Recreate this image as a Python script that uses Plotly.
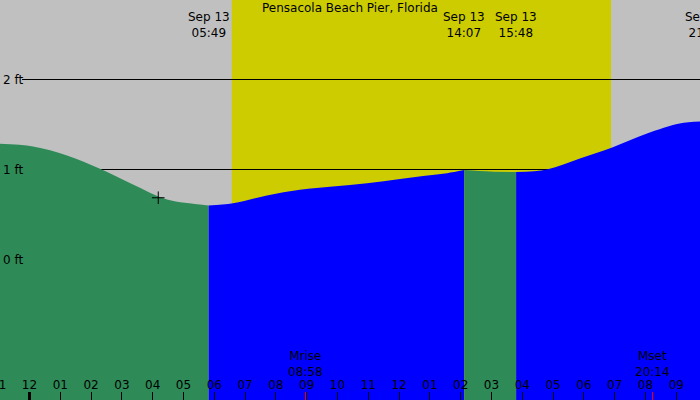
import plotly.graph_objects as go

# tide curve, hours since midnight Sep 13 -> height in ft, split at high/low tides
fall1_hours = [-0.958, 0.114, 1.218, 2.289, 3.36, 4.464, 5.536, 5.817]
fall1_ft = [1.286, 1.256, 1.156, 1.008, 0.833, 0.667, 0.611, 0.600]
rise1_hours = [5.817, 6.607, 7.71, 8.78, 9.85, 10.96, 12.03, 13.0, 13.56, 14.117]
rise1_ft = [0.600, 0.626, 0.711, 0.774, 0.811, 0.848, 0.895, 0.935, 0.959, 0.994]
fall2_hours = [14.117, 14.95, 15.8]
fall2_ft = [0.994, 0.978, 0.972]
rise2_hours = [15.8, 16.8, 17.87, 18.94, 20.05, 21.11, 21.77]
rise2_ft = [0.972, 1.000, 1.122, 1.248, 1.400, 1.511, 1.533]

# tide events shown at the top
event_hours = [5.817, 14.117, 15.8, 21.967]
event_dates = ["Sep 13", "Sep 13", "Sep 13", "Sep 13"]
event_times = ["05:49", "14:07", "15:48", "21:58"]

sunrise = 6.567   # 06:34
sunset = 18.883   # 18:53

moon_hours = [8.967, 20.233]
moon_names = ["Mrise", "Mset"]
moon_times = ["08:58", "20:14"]

now_hour = [4.18]
now_ft = [0.686]

tick_hours = list(range(-1, 22))
tick_text = ["11", "12", "01", "02", "03", "04", "05", "06", "07", "08", "09", "10", "11",
             "12", "01", "02", "03", "04", "05", "06", "07", "08", "09"]

x_range = [-0.958, 21.77]
y_range = [-1.5614, 2.8836]

GREEN = "#2e8b57"
BLUE = "#0000ff"
FONT = dict(family="DejaVu Sans", size=12, color="black")


def paper_x(h):
    # hour -> paper fraction, for labels whose anchor falls just outside the axis range
    return (h - x_range[0]) / (x_range[1] - x_range[0])


fig = go.Figure()

segments = [
    (fall1_hours, fall1_ft, GREEN),
    (rise1_hours, rise1_ft, BLUE),
    (fall2_hours, fall2_ft, GREEN),
    (rise2_hours, rise2_ft, BLUE),
]
for hrs, ft, col in segments:
    fig.add_trace(go.Scatter(x=[hrs[0], hrs[-1]], y=[y_range[0] - 1] * 2, mode="lines",
                             line=dict(width=0), hoverinfo="skip"))
    fig.add_trace(go.Scatter(x=hrs, y=ft, mode="lines", line=dict(width=0, shape="spline"),
                             fill="tonexty", fillcolor=col, hoverinfo="skip"))

fig.add_trace(go.Scatter(x=now_hour, y=now_ft, mode="markers",
                         marker=dict(symbol="cross-thin", size=9, line=dict(color="black", width=1))))

# daylight
fig.add_shape(type="rect", xref="x", yref="paper", x0=sunrise, x1=sunset, y0=0, y1=1,
              fillcolor="#cccc00", line_width=0, layer="below")
# level lines
for lvl in [1, 2]:
    fig.add_shape(type="line", xref="paper", yref="y", x0=22 / 700, x1=1, y0=lvl, y1=lvl,
                  line=dict(color="black", width=1), layer="below")

# midnight and moon ticks
fig.add_shape(type="line", xref="x", yref="paper", x0=0, x1=0, y0=0, y1=0.02,
              line=dict(color="black", width=3))
for mh in moon_hours:
    fig.add_shape(type="line", xref="x", yref="paper", x0=mh, x1=mh, y0=0, y1=0.02,
                  line=dict(color="red", width=1))

fig.add_annotation(text="Pensacola Beach Pier, Florida", xref="paper", yref="paper",
                   x=0.5, y=1 - 7.5 / 400, xanchor="center", yanchor="middle",
                   showarrow=False, font=FONT)
for h, d, t in zip(event_hours, event_dates, event_times):
    fig.add_annotation(text=d + "<br>" + t, xref="paper", x=paper_x(h), xanchor="center",
                       yref="paper", y=1 - 25.5 / 400, yanchor="middle",
                       showarrow=False, font=FONT)
for h, n, t in zip(moon_hours, moon_names, moon_times):
    fig.add_annotation(text=n + "<br>" + t, x=h, yref="paper", y=36 / 400,
                       yanchor="middle", showarrow=False, font=FONT)

# hour label that sits half off the left edge
for h, t in zip(tick_hours, tick_text):
    if h < x_range[0]:
        fig.add_annotation(text=t, xref="paper", x=paper_x(h), xanchor="center",
                           yref="paper", y=15 / 400, yanchor="middle",
                           showarrow=False, font=FONT)

fig.update_xaxes(range=x_range, tickvals=tick_hours, ticktext=tick_text, ticks="inside",
                 ticklen=8, tickwidth=1, tickcolor="black", ticklabelposition="inside",
                 showgrid=False, zeroline=False, showline=False, tickfont=FONT)
fig.update_yaxes(range=y_range, tickvals=[0, 1, 2], ticktext=["0 ft", "1 ft", "2 ft"],
                 ticks="", ticklabelposition="inside", showgrid=False, zeroline=False,
                 showline=False, tickfont=FONT)

fig.update_layout(width=700, height=400, margin=dict(l=0, r=0, t=0, b=0),
                  paper_bgcolor="#c0c0c0", plot_bgcolor="#c0c0c0", showlegend=False)

# drop the page's default body margin so the chart fills the window
fig.write_html("out.html", config={"displayModeBar": False},
               post_script="document.body.style.margin = '0';")
